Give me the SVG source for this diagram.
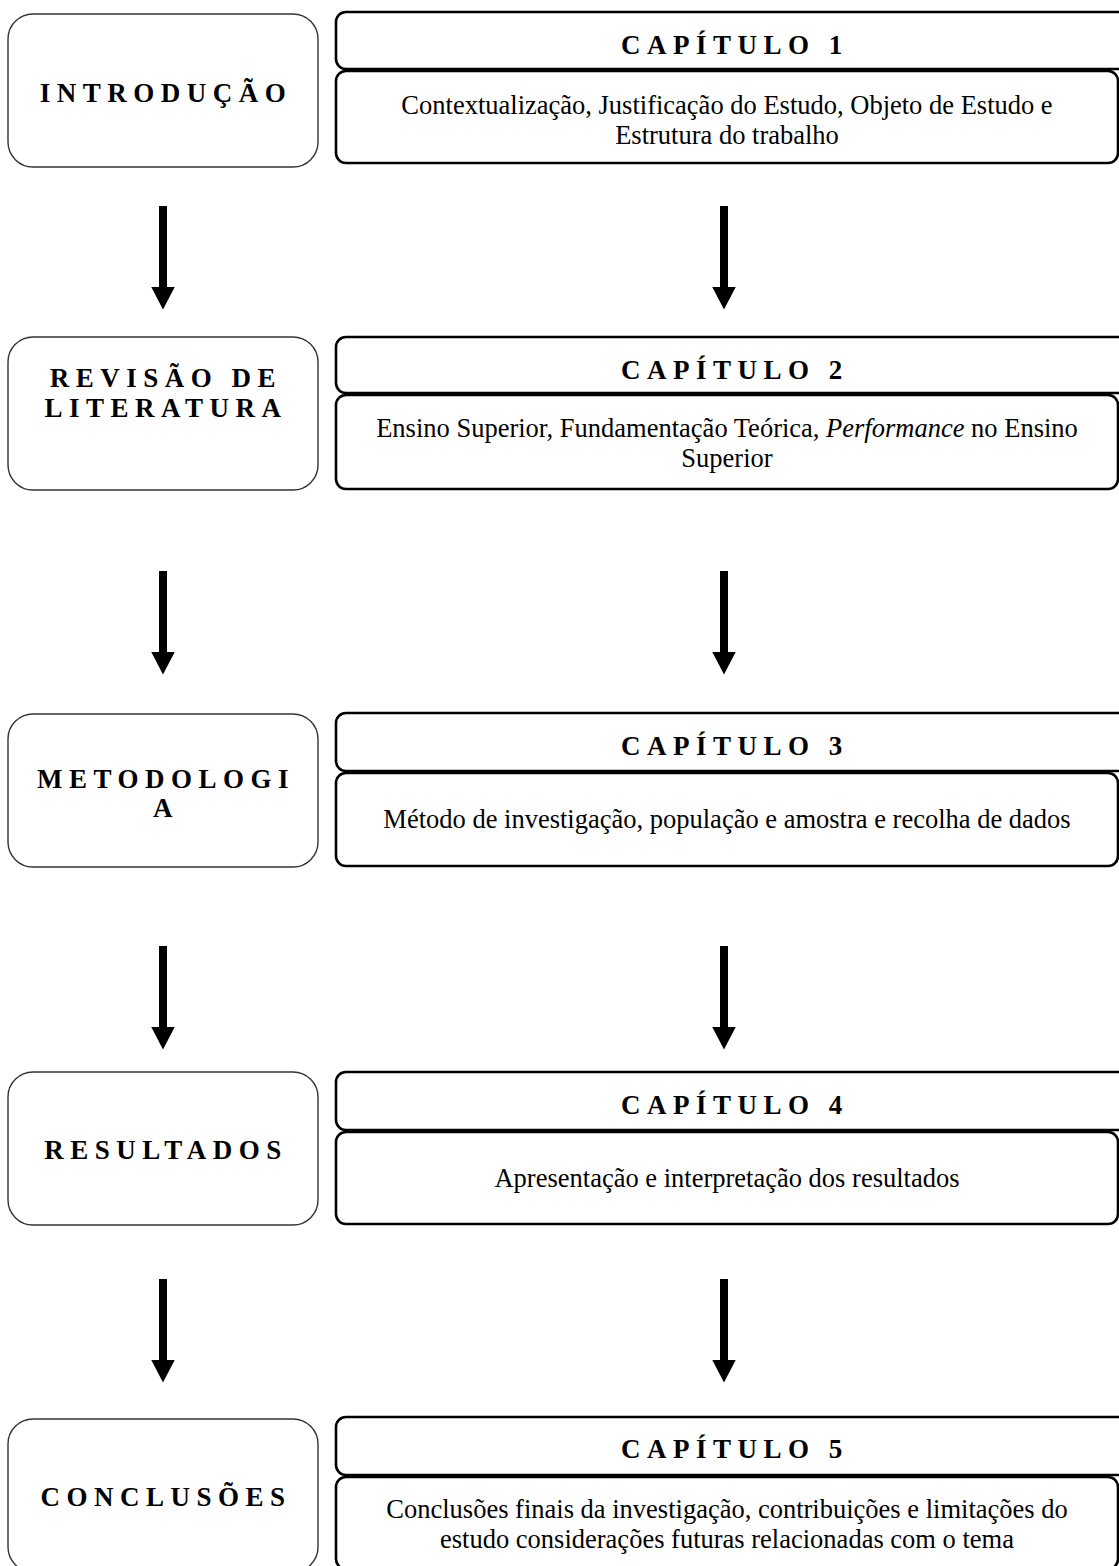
<svg xmlns="http://www.w3.org/2000/svg" width="1119" height="1566" viewBox="0 0 1119 1566">
<style>
.bg{fill:#ffffff}
.lbox{fill:#ffffff;stroke:#333333;stroke-width:1.4}
.rbox{fill:#ffffff;stroke:#000000;stroke-width:2.6}
.title{font-family:"Liberation Serif","Times New Roman",serif;font-weight:bold;font-size:27px;letter-spacing:6.5px;fill:#000000;text-anchor:middle}
.body{font-family:"Liberation Serif","Times New Roman",serif;font-size:26.5px;fill:#000000;text-anchor:middle}
.arrow{stroke:#000000;stroke-width:8;fill:none}
</style>
<defs>
<marker id="head" markerUnits="userSpaceOnUse" viewBox="0 0 23 24" markerWidth="23" markerHeight="24" refX="0.5" refY="12" orient="auto">
<path d="M0,0 L23,12 L0,24 Z" fill="#000000"/>
</marker>
</defs>
<rect class="bg" x="0" y="0" width="1119" height="1566"/>

<g id="connectors">
<line class="arrow" x1="163" y1="206" x2="163" y2="287" marker-end="url(#head)"/>
<line class="arrow" x1="724" y1="206" x2="724" y2="287" marker-end="url(#head)"/>
<line class="arrow" x1="163" y1="571" x2="163" y2="652" marker-end="url(#head)"/>
<line class="arrow" x1="724" y1="571" x2="724" y2="652" marker-end="url(#head)"/>
<line class="arrow" x1="163" y1="946" x2="163" y2="1027" marker-end="url(#head)"/>
<line class="arrow" x1="724" y1="946" x2="724" y2="1027" marker-end="url(#head)"/>
<line class="arrow" x1="163" y1="1279" x2="163" y2="1360" marker-end="url(#head)"/>
<line class="arrow" x1="724" y1="1279" x2="724" y2="1360" marker-end="url(#head)"/>
</g>

<g id="introducao">
<rect class="lbox" x="8" y="14" width="310" height="153" rx="25" ry="25"/>
<text class="title" x="166" y="102">INTRODUÇÃO</text>
</g>
<g id="capitulo1">
<rect class="rbox" x="336" y="12" width="800" height="57" rx="10" ry="10"/>
<text class="title" x="735" y="54">CAPÍTULO 1</text>
</g>
<g id="capitulo1-desc">
<rect class="rbox" x="336" y="71" width="782" height="92" rx="10" ry="10"/>
<text class="body" x="727" y="114">Contextualização, Justificação do Estudo, Objeto de Estudo e</text>
<text class="body" x="727" y="144">Estrutura do trabalho</text>
</g>

<g id="revisao">
<rect class="lbox" x="8" y="337" width="310" height="153" rx="25" ry="25"/>
<text class="title" x="166" y="387">REVISÃO DE</text>
<text class="title" x="166" y="417">LITERATURA</text>
</g>
<g id="capitulo2">
<rect class="rbox" x="336" y="337" width="800" height="56" rx="10" ry="10"/>
<text class="title" x="735" y="379">CAPÍTULO 2</text>
</g>
<g id="capitulo2-desc">
<rect class="rbox" x="336" y="395" width="782" height="94" rx="10" ry="10"/>
<text class="body" x="727" y="437">Ensino Superior, Fundamentação Teórica, <tspan font-style="italic">Performance</tspan> no Ensino</text>
<text class="body" x="727" y="467">Superior</text>
</g>

<g id="metodologia">
<rect class="lbox" x="8" y="714" width="310" height="153" rx="25" ry="25"/>
<text class="title" x="166" y="788">METODOLOGI</text>
<text class="title" x="166" y="817">A</text>
</g>
<g id="capitulo3">
<rect class="rbox" x="336" y="713" width="800" height="58" rx="10" ry="10"/>
<text class="title" x="735" y="755">CAPÍTULO 3</text>
</g>
<g id="capitulo3-desc">
<rect class="rbox" x="336" y="773" width="782" height="93" rx="10" ry="10"/>
<text class="body" x="727" y="828">Método de investigação, população e amostra e recolha de dados</text>
</g>

<g id="resultados">
<rect class="lbox" x="8" y="1072" width="310" height="153" rx="25" ry="25"/>
<text class="title" x="166" y="1159">RESULTADOS</text>
</g>
<g id="capitulo4">
<rect class="rbox" x="336" y="1072" width="800" height="58" rx="10" ry="10"/>
<text class="title" x="735" y="1114">CAPÍTULO 4</text>
</g>
<g id="capitulo4-desc">
<rect class="rbox" x="336" y="1132" width="782" height="92" rx="10" ry="10"/>
<text class="body" x="727" y="1187">Apresentação e interpretação dos resultados</text>
</g>

<g id="conclusoes">
<rect class="lbox" x="8" y="1419" width="310" height="153" rx="25" ry="25"/>
<text class="title" x="166" y="1506">CONCLUSÕES</text>
</g>
<g id="capitulo5">
<rect class="rbox" x="336" y="1417" width="800" height="58" rx="10" ry="10"/>
<text class="title" x="735" y="1458">CAPÍTULO 5</text>
</g>
<g id="capitulo5-desc">
<rect class="rbox" x="336" y="1477" width="782" height="92" rx="10" ry="10"/>
<text class="body" x="727" y="1518">Conclusões finais da investigação, contribuições e limitações do</text>
<text class="body" x="727" y="1548">estudo considerações futuras relacionadas com o tema</text>
</g>
</svg>
